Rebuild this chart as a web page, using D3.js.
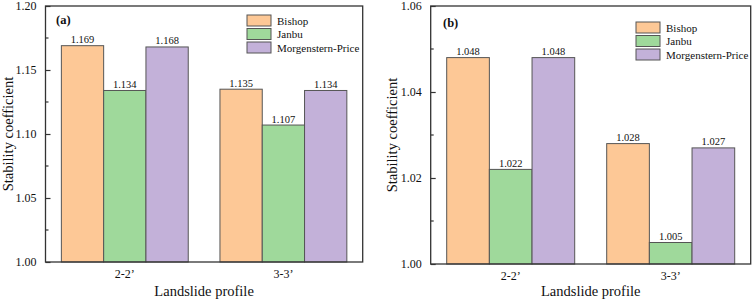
<!DOCTYPE html>
<html>
<head>
<meta charset="utf-8">
<script src="https://cdn.jsdelivr.net/npm/d3@7"></script>
<style>
  body { margin: 0; background: #fff; }
</style>
</head>
<body>
<svg id="chart" width="754" height="301"></svg>
<script>
// data
const profiles = ["2-2\u2019", "3-3\u2019"];
const methods = ["Bishop", "Janbu", "Morgenstern-Price"];
const valuesA = [[1.169, 1.134, 1.168], [1.135, 1.107, 1.134]];
const valuesB = [[1.048, 1.022, 1.048], [1.028, 1.005, 1.027]];
const ticksA = [1.00, 1.05, 1.10, 1.15, 1.20];
const ticksB = [1.00, 1.02, 1.04, 1.06];
const colors = ["#fdc896", "#9fd99b", "#c3b1d9"];

const FONT = "'Liberation Serif', 'Times New Roman', Times, serif";
const svg = d3.select("#chart");

function label(g, x, y, txt, size) {
  return g.append("text")
    .attr("x", x).attr("y", y)
    .style("font-family", FONT)
    .style("font-size", size + "px")
    .style("fill", "#111")
    .text(txt);
}

function drawPanel(opts) {
  const { x0, x1, y0, y1, values, yDomain, ticks, minorStep, tag, legendX, legendY, yTitleX } = opts;
  const g = svg.append("g");

  const x = d3.scaleBand().domain(profiles).range([x0, x1]).paddingInner(0).paddingOuter(0);
  const xSub = d3.scaleBand().domain(methods).range([0, x.bandwidth() * 0.8]);
  const y = d3.scaleLinear().domain(yDomain).range([y1, y0]);

  // bars
  profiles.forEach((p, i) => {
    const gx = x(p) + x.bandwidth() * 0.1;
    methods.forEach((m, j) => {
      const v = values[i][j];
      g.append("rect")
        .attr("x", gx + xSub(m))
        .attr("y", y(v))
        .attr("width", xSub.bandwidth())
        .attr("height", y1 - y(v))
        .attr("fill", colors[j])
        .attr("stroke", "#555")
        .attr("stroke-width", 1);
      label(g, gx + xSub(m) + xSub.bandwidth() / 2, y(v) - 2.5, v.toFixed(3), 10.5)
        .attr("text-anchor", "middle");
    });
  });

  // frame
  g.append("rect")
    .attr("x", x0).attr("y", y0)
    .attr("width", x1 - x0).attr("height", y1 - y0)
    .attr("fill", "none")
    .attr("stroke", "#333")
    .attr("stroke-width", 1.3);

  // y axis ticks, pointing inward
  const yAxis = d3.axisLeft(y).tickValues(ticks).tickSizeInner(-5).tickSizeOuter(0)
    .tickPadding(9).tickFormat(d3.format(".2f"));
  const ax = g.append("g").attr("transform", `translate(${x0},0)`).call(yAxis);
  ax.select(".domain").remove();
  ax.selectAll(".tick line").attr("stroke", "#333").attr("stroke-width", 1.2);
  ax.selectAll(".tick text")
    .style("font-family", FONT)
    .style("font-size", "12px")
    .style("fill", "#111");

  const minor = d3.range(yDomain[0] + minorStep, yDomain[1], minorStep * 2);
  g.selectAll(".minor").data(minor).enter().append("line")
    .attr("x1", x0).attr("x2", x0 + 3)
    .attr("y1", d => y(d)).attr("y2", d => y(d))
    .attr("stroke", "#333").attr("stroke-width", 1.2);

  // x tick labels
  profiles.forEach(p => {
    label(g, x(p) + x.bandwidth() / 2, y1 + 16, p, 12).attr("text-anchor", "middle");
  });

  // axis titles
  label(g, (x0 + x1) / 2, 296, "Landslide profile", 14.5).attr("text-anchor", "middle");
  label(g, 0, 0, "Stability coefficient", 14.5)
    .attr("transform", `translate(${yTitleX},${(y0 + y1) / 2}) rotate(-90)`)
    .attr("text-anchor", "middle");

  // panel tag
  label(g, tag.x, tag.y, tag.text, 12.5).style("font-weight", "bold");

  // legend
  methods.forEach((m, j) => {
    const ly = legendY + j * 13.5;
    g.append("rect")
      .attr("x", legendX).attr("y", ly)
      .attr("width", 24).attr("height", 11)
      .attr("fill", colors[j])
      .attr("stroke", "#555").attr("stroke-width", 1);
    label(g, legendX + 30, ly + 9.5, m, 11);
  });
}

drawPanel({
  x0: 45.5, x1: 362.7, y0: 6, y1: 262,
  values: valuesA, yDomain: [1.00, 1.20], ticks: ticksA, minorStep: 0.025,
  tag: { text: "(a)", x: 56, y: 24 },
  legendX: 247, legendY: 15, yTitleX: 13
});

drawPanel({
  x0: 430.7, x1: 750.7, y0: 6, y1: 264,
  values: valuesB, yDomain: [1.00, 1.06], ticks: ticksB, minorStep: 0.01,
  tag: { text: "(b)", x: 443, y: 27 },
  legendX: 636, legendY: 22, yTitleX: 397
});
</script>
</body>
</html>
